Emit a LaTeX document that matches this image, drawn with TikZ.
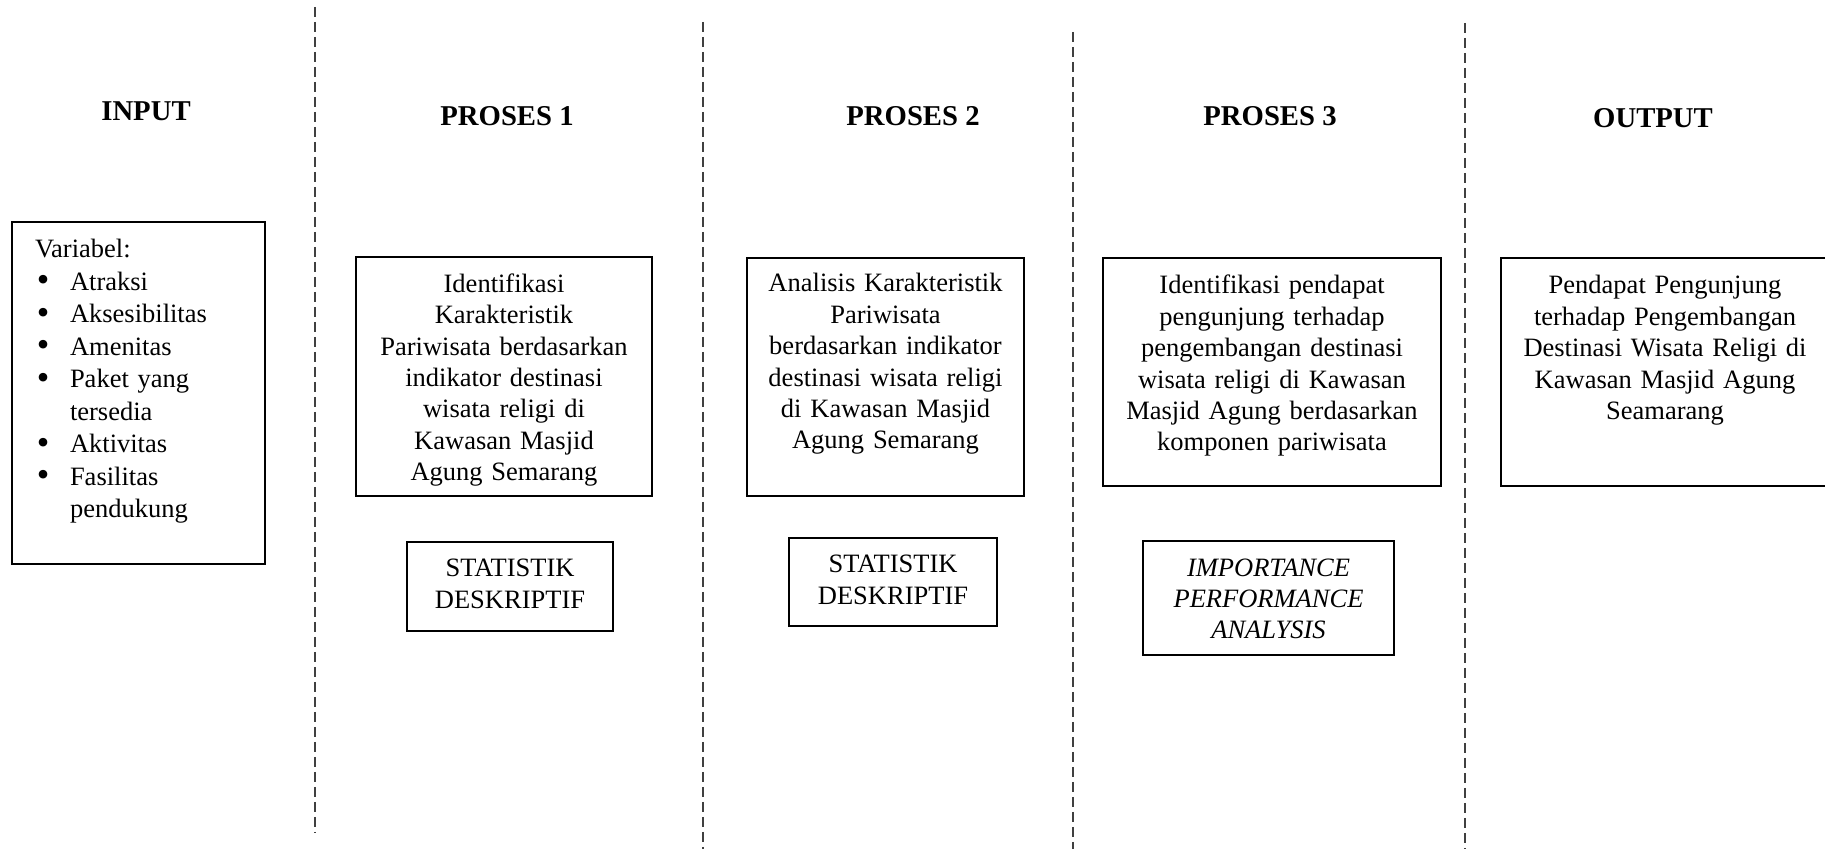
\documentclass[tikz,border=0pt]{standalone}
\usepackage{fontspec}
\setmainfont{Liberation Serif}
\usetikzlibrary{positioning}
\newlength{\px}
\setlength{\px}{0.4528pt}
\newcommand{\butir}{\hspace*{2\px}\makebox[33\px][l]{\smash{\raisebox{-1.5\px}{\scalebox{1.35}{\textbullet}}}}}
\newcommand{\lanjut}{\hspace*{35\px}}

\begin{document}
\begin{tikzpicture}[x=\px, y=-\px,
  judul/.style={font=\fontsize{13}{15}\selectfont\bfseries, inner sep=0pt, anchor=base},
  kotak/.style={draw, line width=2\px, inner sep=0pt, outer sep=0pt, anchor=north west, align=center, font=\fontsize{12}{14.2}\selectfont},
  pemisah/.style={draw=black!75, line width=1.2\px, dash pattern=on 10\px off 5\px}]
\useasboundingbox (0,0) rectangle (1825,849);

% Column separators
\draw[pemisah] (315,7) -- (315,833);
\draw[pemisah] (703,22) -- (703,849);
\draw[pemisah] (1073,32) -- (1073,849);
\draw[pemisah] (1465,23) -- (1465,849);

% Headings
\node[judul] (jInput) at (146,121) {INPUT};
\node[judul] (jProses1) at (507,125.5) {PROSES 1};
\node[judul] (jProses2) at (913,125.5) {PROSES 2};
\node[judul] (jProses3) at (1270,125.5) {PROSES 3};
\node[judul] (jOutput) at (1653,128) {OUTPUT};

% Input
\node[kotak, align=left, text width=207\px, inner xsep=23\px, text height=36\px, text depth=306\px,
  font=\fontsize{12}{14.7}\selectfont] (input) at (12,222)
  {Variabel:\\ \butir Atraksi\\ \butir Aksesibilitas\\ \butir Amenitas\\ \butir Paket yang\\ \lanjut tersedia\\
   \butir Aktivitas\\ \butir Fasilitas\\ \lanjut pendukung};

% Proses 1
\node[kotak, text width=296\px, text height=35.5\px, text depth=203.5\px] (proses1) at (356,257)
  {Identifikasi\\ Karakteristik\\ Pariwisata berdasarkan\\ indikator destinasi\\ wisata religi di\\ Kawasan Masjid\\ Agung Semarang};
\node[kotak, text width=206\px, text height=35\px, text depth=54\px] (metode1) at (407,542)
  {STATISTIK\\ DESKRIPTIF};

% Proses 2
\node[kotak, text width=277\px, text height=34\px, text depth=204\px] (proses2) at (747,258)
  {Analisis Karakteristik\\ Pariwisata\\ berdasarkan indikator\\ destinasi wisata religi\\ di Kawasan Masjid\\ Agung Semarang};
\node[kotak, text width=208\px, text height=35\px, text depth=53\px] (metode2) at (789,538)
  {STATISTIK\\ DESKRIPTIF};

% Proses 3
\node[kotak, text width=338\px, text height=36\px, text depth=192\px] (proses3) at (1103,258)
  {Identifikasi pendapat\\ pengunjung terhadap\\ pengembangan destinasi\\ wisata religi di Kawasan\\ Masjid Agung berdasarkan\\ komponen pariwisata};
\node[kotak, text width=251\px, text height=36\px, text depth=78\px, font=\fontsize{12}{14}\selectfont\itshape] (metode3) at (1143,541)
  {IMPORTANCE\\ PERFORMANCE\\ ANALYSIS};

% Output
\node[kotak, text width=328\px, text height=36\px, text depth=192\px] (output) at (1501,258)
  {Pendapat Pengunjung\\ terhadap Pengembangan\\ Destinasi Wisata Religi di\\ Kawasan Masjid Agung\\ Seamarang};

\end{tikzpicture}
\end{document}
